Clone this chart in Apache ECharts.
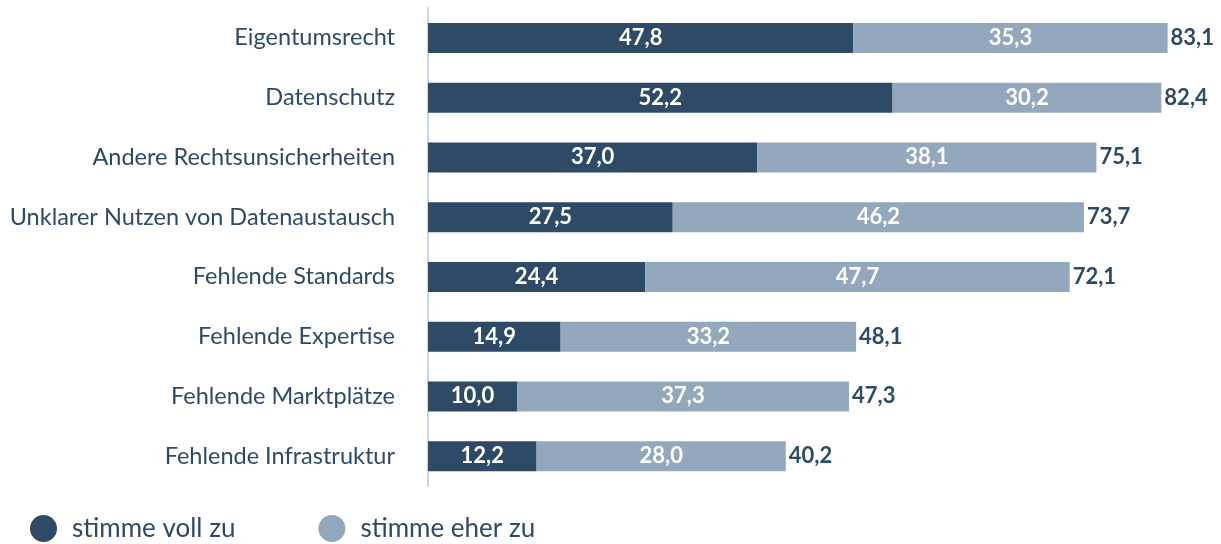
<!DOCTYPE html>
<html>
<head>
<meta charset="utf-8">
<script src="https://cdn.jsdelivr.net/npm/echarts@6/dist/echarts.min.js"></script>
<style>
  html, body { margin: 0; padding: 0; background: #fff; }
  #chart { width: 1221px; height: 544px; }
</style>
</head>
<body>
<div id="chart"></div>
<script>
// Kategorien (von oben nach unten)
var categories = [
    'Eigentumsrecht',
    'Datenschutz',
    'Andere Rechtsunsicherheiten',
    'Unklarer Nutzen von Datenaustausch',
    'Fehlende Standards',
    'Fehlende Expertise',
    'Fehlende Marktplätze',
    'Fehlende Infrastruktur'
];
var vollZu = [47.8, 52.2, 37.0, 27.5, 24.4, 14.9, 10.0, 12.2];
var eherZu = [35.3, 30.2, 38.1, 46.2, 47.7, 33.2, 37.3, 28.0];
var totals = [83.1, 82.4, 75.1, 73.7, 72.1, 48.1, 47.3, 40.2];

var DARK = '#2e4a66';
var LIGHT = '#93a8bc';
var FONT = 'Lato';

function fmt(v) {
    return v.toFixed(1).replace('.', ',');
}

var chart = echarts.init(document.getElementById('chart'));

var option = {
    backgroundColor: '#ffffff',
    animation: false,
    textStyle: { fontFamily: FONT },
    grid: {
        left: 428,
        top: 8,
        right: 36.5,
        height: 478
    },
    legend: {
        data: ['stimme voll zu', 'stimme eher zu'],
        left: 30,
        top: 515,
        padding: 0,
        icon: 'circle',
        itemWidth: 27,
        itemHeight: 27,
        itemGap: 83,
        textStyle: {
            color: DARK,
            fontFamily: FONT,
            fontSize: 26,
            padding: [0, 0, 0, 10]
        }
    },
    xAxis: {
        type: 'value',
        min: 0,
        max: 85,
        show: false
    },
    yAxis: {
        type: 'category',
        inverse: true,
        data: categories,
        axisLine: { show: true, lineStyle: { color: '#c8d5e8', width: 2 } },
        axisTick: { show: false },
        axisLabel: {
            color: DARK,
            fontFamily: FONT,
            fontSize: 23.5,
            margin: 33
        }
    },
    series: [
        {
            name: 'stimme voll zu',
            type: 'bar',
            stack: 'gesamt',
            barWidth: 30,
            itemStyle: { color: DARK },
            label: {
                show: true,
                position: 'inside',
                color: '#ffffff',
                fontWeight: 'bold',
                fontFamily: FONT,
                fontSize: 22,
                formatter: function (p) { return fmt(p.value); }
            },
            data: vollZu
        },
        {
            name: 'stimme eher zu',
            type: 'bar',
            stack: 'gesamt',
            barWidth: 30,
            itemStyle: { color: LIGHT },
            label: {
                show: true,
                position: 'inside',
                color: '#ffffff',
                fontWeight: 'bold',
                fontFamily: FONT,
                fontSize: 22,
                formatter: function (p) { return fmt(p.value); }
            },
            data: eherZu
        },
        {
            // nur fuer die Summen-Beschriftung
            name: 'gesamt',
            type: 'bar',
            stack: 'gesamt',
            barWidth: 30,
            itemStyle: { color: 'transparent' },
            label: {
                show: true,
                position: 'right',
                distance: 3,
                color: DARK,
                fontWeight: 'bold',
                fontFamily: FONT,
                fontSize: 22,
                formatter: function (p) { return fmt(totals[p.dataIndex]); }
            },
            data: totals.map(function () { return 0; })
        }
    ]
};

chart.setOption(option);
</script>
</body>
</html>
